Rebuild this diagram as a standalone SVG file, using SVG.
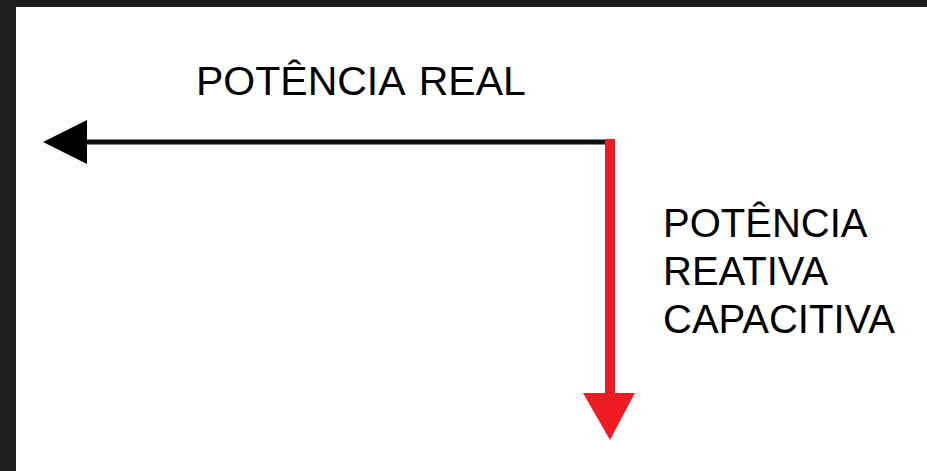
<svg xmlns="http://www.w3.org/2000/svg" width="927" height="471" viewBox="0 0 927 471">
<style>
.lbl{font-family:"Liberation Sans",Arial,sans-serif;fill:#000}
</style>
<rect x="0" y="0" width="927" height="471" fill="#1e1e1e"/>
<rect x="16" y="7" width="911" height="464" fill="#ffffff"/>
<g id="connectors">
<line x1="86" y1="142" x2="612" y2="142" stroke="#111" stroke-width="5"/>
<polygon points="43,142 87,120 87,164" fill="#000"/>
<line x1="610" y1="139" x2="610" y2="396" stroke="#ED1C24" stroke-width="10"/>
<polygon points="583,393 635,393 610,440" fill="#ED1C24"/>
</g>
<g id="real">
<text class="lbl" x="196" y="95" font-size="41" word-spacing="4">POTÊNCIA REAL</text>
</g>
<g id="reativa">
<text class="lbl" x="663" y="237" font-size="40">POTÊNCIA</text>
<text class="lbl" x="663" y="285" font-size="40">REATIVA</text>
<text class="lbl" x="663" y="333" font-size="40">CAPACITIVA</text>
</g>
</svg>
